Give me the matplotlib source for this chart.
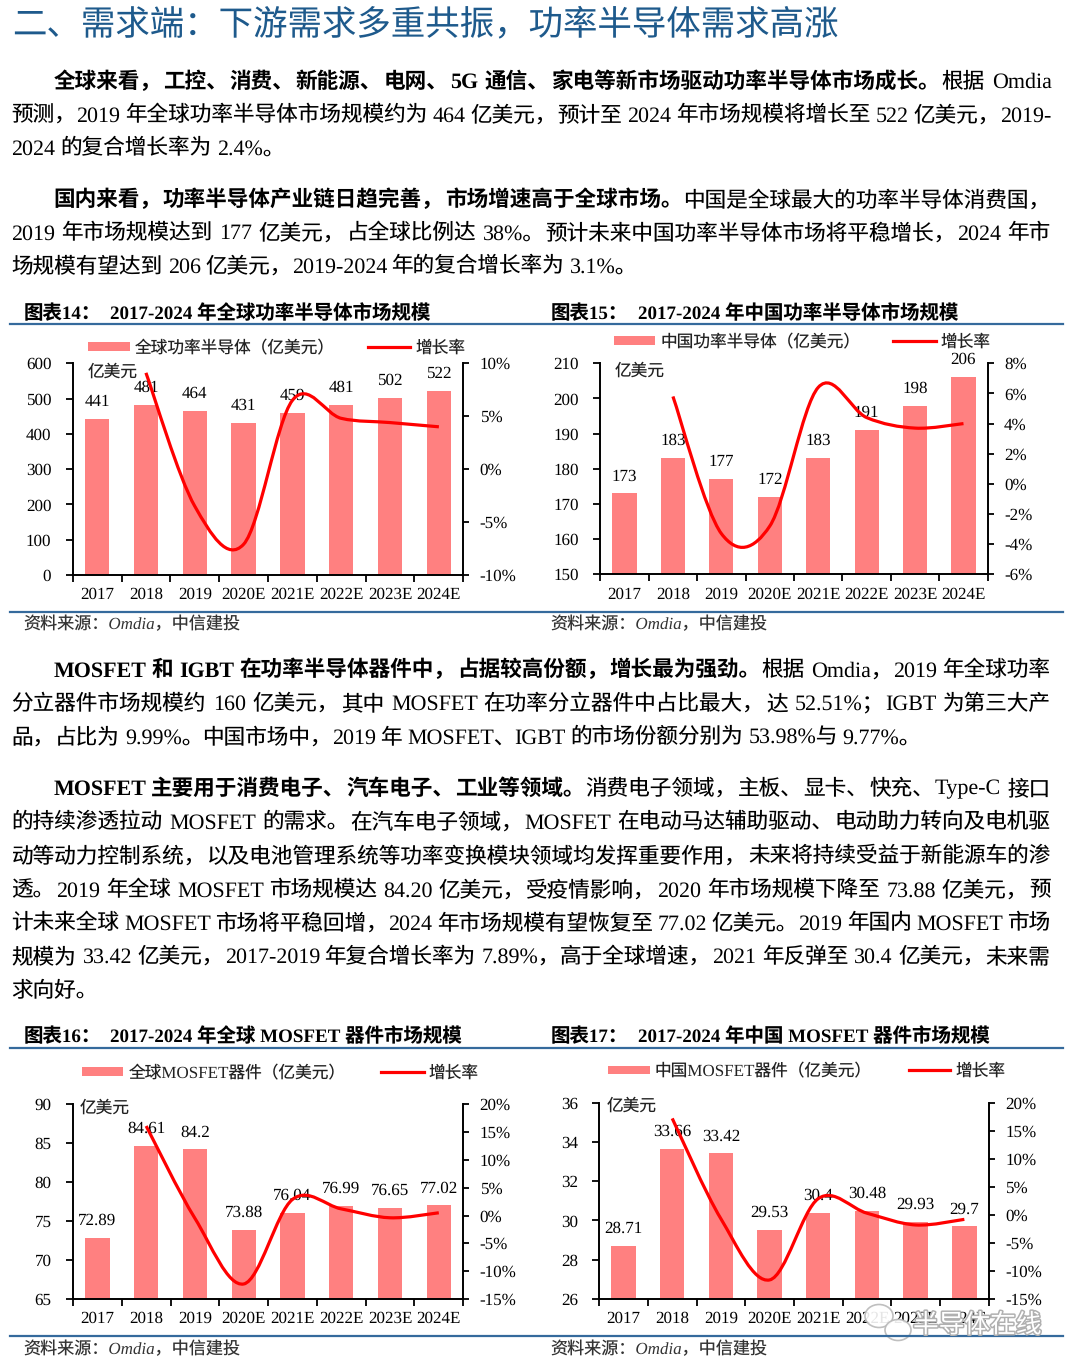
import matplotlib
matplotlib.use("Agg")
import matplotlib.pyplot as plt
import numpy as np
from matplotlib.path import Path
from matplotlib.patches import PathPatch, Rectangle, Ellipse
from matplotlib.lines import Line2D
from matplotlib.ticker import FuncFormatter
import matplotlib.patheffects as pe
from matplotlib import font_manager as fm
from matplotlib.ft2font import FT2Font
try:
    from matplotlib.ft2font import LoadFlags
    NOHINT = LoadFlags.NO_HINTING
except Exception:
    from matplotlib.ft2font import LOAD_NO_HINTING as NOHINT

# ---------------- data ----------------
CATS = ["2017", "2018", "2019", "2020E", "2021E", "2022E", "2023E", "2024E"]

V14 = [441, 481, 464, 431, 459, 481, 502, 522]
G14 = [9.1, -3.5, -7.1, 6.5, 4.8, 4.4, 4.0]          # 2018..2024E

V15 = [173, 183, 177, 172, 183, 191, 198, 206]
G15 = [5.8, -3.3, -2.8, 6.4, 4.4, 3.7, 4.0]

V16 = [72.89, 84.61, 84.2, 73.88, 76.04, 76.99, 76.65, 77.02]
G16 = [16.1, -0.5, -12.3, 2.9, 1.2, -0.4, 0.5]

V17 = [28.71, 33.66, 33.42, 29.53, 30.4, 30.48, 29.93, 29.7]
G17 = [17.2, -0.7, -11.6, 2.9, 0.3, -1.8, -0.8]

TITLES = [("图表14：", "2017-2024 年全球功率半导体市场规模"),
          ("图表15：", "2017-2024 年中国功率半导体市场规模"),
          ("图表16：", "2017-2024 年全球 MOSFET 器件市场规模"),
          ("图表17：", "2017-2024 年中国 MOSFET 器件市场规模")]
BAR_NAMES = ["全球功率半导体（亿美元）", "中国功率半导体（亿美元）",
             "全球MOSFET器件（亿美元）", "中国MOSFET器件（亿美元）"]
LINE_NAME = "增长率"
UNIT = "亿美元"
SOURCE = "资料来源：Omdia，中信建投"
PAGE_TITLE = "二、需求端：下游需求多重共振，功率半导体需求高涨"

P1 = [
    [("全球来看，工控、消费、新能源、电网、5G 通信、家电等新市场驱动功率半导体市场成长。", True), ("根据 Omdia", False)],
    [("预测，2019 年全球功率半导体市场规模约为 464 亿美元，预计至 2024 年市场规模将增长至 522 亿美元，2019-", False)],
    [("2024 的复合增长率为 2.4%。", False)],
]
P2 = [
    [("国内来看，功率半导体产业链日趋完善，市场增速高于全球市场。", True), ("中国是全球最大的功率半导体消费国，", False)],
    [("2019 年市场规模达到 177 亿美元，占全球比例达 38%。预计未来中国功率半导体市场将平稳增长，2024 年市", False)],
    [("场规模有望达到 206 亿美元，2019-2024 年的复合增长率为 3.1%。", False)],
]
P3 = [
    [("MOSFET 和 IGBT 在功率半导体器件中，占据较高份额，增长最为强劲。", True), ("根据 Omdia，2019 年全球功率", False)],
    [("分立器件市场规模约 160 亿美元，其中 MOSFET 在功率分立器件中占比最大，达 52.51%；IGBT 为第三大产", False)],
    [("品，占比为 9.99%。中国市场中，2019 年 MOSFET、IGBT 的市场份额分别为 53.98%与 9.77%。", False)],
]
P4 = [
    [("MOSFET 主要用于消费电子、汽车电子、工业等领域。", True), ("消费电子领域，主板、显卡、快充、Type-C 接口", False)],
    [("的持续渗透拉动 MOSFET 的需求。在汽车电子领域，MOSFET 在电动马达辅助驱动、电动助力转向及电机驱", False)],
    [("动等动力控制系统，以及电池管理系统等功率变换模块领域均发挥重要作用，未来将持续受益于新能源车的渗", False)],
    [("透。2019 年全球 MOSFET 市场规模达 84.20 亿美元，受疫情影响，2020 年市场规模下降至 73.88 亿美元，预", False)],
    [("计未来全球 MOSFET 市场将平稳回增，2024 年市场规模有望恢复至 77.02 亿美元。2019 年国内 MOSFET 市场", False)],
    [("规模为 33.42 亿美元，2017-2019 年复合增长率为 7.89%，高于全球增速，2021 年反弹至 30.4 亿美元，未来需", False)],
    [("求向好。", False)],
]

# ---------------- style ----------------
FAM = ["Liberation Serif", "Noto Sans CJK SC", "DejaVu Sans"]
plt.rcParams["font.family"] = FAM
plt.rcParams["text.hinting"] = "no_hinting"
plt.rcParams["text.hinting_factor"] = 1
BAR_C = "#FF8080"
LINE_C = "#FF0000"
BLUE = "#356a9c"
W, H = 1080, 1371
BODY_PT = 15.55

fig = plt.figure(figsize=(W / 100, H / 100), dpi=100)

_fonts = {}


def _ft(family, weight):
    key = (family, weight)
    if key not in _fonts:
        try:
            p = fm.findfont(fm.FontProperties(family=family, weight=weight), fallback_to_default=False)
            _fonts[key] = FT2Font(p)
        except Exception:
            _fonts[key] = None
    return _fonts[key]


def adv_width(s, size, weight):
    """sum of glyph advances in pixels (dpi 100)"""
    total = 0.0
    for ch in s:
        done = False
        for fam in FAM[:2]:
            f = _ft(fam, weight)
            if f is None:
                continue
            if f.get_char_index(ord(ch)) == 0:
                continue
            f.set_size(size, 100)
            g = f.load_char(ord(ch), flags=NOHINT)
            total += g.linearHoriAdvance / 65536.0
            done = True
            break
        if not done:
            total += size * 100 / 72
    return total


def fx(x):
    return x / W


def fy(y):
    return 1 - y / H


def ftext(x, yc, s, size, **kw):
    px = size * 100 / 72
    return fig.text(fx(x), fy(yc + 0.37 * px), s, fontsize=size, va="baseline", ha=kw.pop("ha", "left"), **kw)


PUNCT = set("，、。；：")


def body_line(segs, yc, x0, x1, justify, size=BODY_PT):
    toks = []
    for s, bold in segs:
        wt = "bold" if bold else "normal"
        buf = ""
        for ch in s:
            if ch == " ":
                if buf:
                    toks.append([buf, wt, "space"])
                    buf = ""
                elif toks:
                    toks[-1][2] = "space"
            elif ch in PUNCT:
                buf += ch
                toks.append([buf, wt, "punct"])
                buf = ""
            else:
                buf += ch
        if buf:
            toks.append([buf, wt, "none"])
    widths = [adv_width(t, size, wt) for t, wt, g in toks]
    sp = adv_width(" ", size, "normal")
    nat = {"space": sp, "punct": 0.0, "none": 0.0}
    gaps = [nat[toks[i][2]] for i in range(len(toks) - 1)]
    total = sum(widths) + sum(gaps)
    if justify and gaps:
        extra = x1 - x0 - total
        nsp = sum(1 for i in range(len(gaps)) if toks[i][2] == "space")
        if extra >= 0 or nsp == 0:
            gaps = [g + extra / len(gaps) for g in gaps]
        else:
            gaps = [max(g + extra / nsp, 1.0) if toks[i][2] == "space" else g
                    for i, g in enumerate(gaps)]
    x = x0
    for i, (t, wt, g) in enumerate(toks):
        ftext(x, yc, t, size, fontweight=wt, color="black")
        if i < len(gaps):
            x += widths[i] + gaps[i]


def paragraph(lines, ys):
    for i, (segs, y) in enumerate(zip(lines, ys)):
        x0 = 53.4 if i == 0 else 11.5
        body_line(segs, y, x0, 1050.5, justify=(i < len(lines) - 1))


# ---------------- page text ----------------
ftext(12, 22, PAGE_TITLE, 24.8, color="#1e5a8c")
paragraph(P1, [80, 113.3, 146.7])
paragraph(P2, [198.3, 231.3, 264.5])
paragraph(P3, [668.3, 702, 735.5])
paragraph(P4, [786.7, 820.5, 854.5, 888.3, 921.7, 955, 988.3])

# blue rules
for y in [323.5, 612, 1048, 1336]:
    fig.add_artist(Line2D([fx(10), fx(1062.5)], [fy(y), fy(y)], transform=fig.transFigure,
                          color=BLUE, lw=1.6))


def smooth_path(xs, ys):
    pts = np.column_stack([xs, ys]).astype(float)
    n = len(pts)
    verts = [pts[0]]
    codes = [Path.MOVETO]
    for i in range(n - 1):
        p0 = pts[i - 1] if i > 0 else pts[i]
        p1 = pts[i]
        p2 = pts[i + 1]
        p3 = pts[i + 2] if i + 2 < n else pts[i + 1]
        c1 = p1 + (p2 - p0) / 6.0
        c2 = p2 - (p3 - p1) / 6.0
        verts += [c1, c2, p2]
        codes += [Path.CURVE4] * 3
    return Path(verts, codes)


charts = [
    dict(v=V14, g=G14, box=(72.7, 363.3, 463.3, 575), yl=(0, 600), ys=100, rl=(-10, 10), rs=5,
         title=TITLES[0], tpos=(23.4, 110, 311.7), bar=BAR_NAMES[0],
         leg=(346.7, 88, 130, 135, 368, 410, 415), unit=(87.3, 370.7), src=(23, 623)),
    dict(v=V15, g=G15, box=(600.3, 363.3, 987.7, 574.3), yl=(150, 210), ys=10, rl=(-6, 8), rs=2,
         title=TITLES[1], tpos=(550.3, 637.5, 311.7), bar=BAR_NAMES[1],
         leg=(340.7, 614, 655, 661, 893, 936, 940), unit=(615, 370), src=(550, 623)),
    dict(v=V16, g=G16, box=(73, 1104.3, 463.2, 1299), yl=(65, 90), ys=5, rl=(-15, 20), rs=5,
         title=TITLES[2], tpos=(23.4, 110, 1035), bar=BAR_NAMES[2],
         leg=(1071.7, 82, 123, 129, 380.5, 424, 428.7), unit=(80, 1106.7), src=(23, 1348)),
    dict(v=V17, g=G17, box=(599.2, 1102.7, 988.7, 1299), yl=(26, 36), ys=2, rl=(-15, 20), rs=5,
         title=TITLES[3], tpos=(550.3, 637.5, 1035), bar=BAR_NAMES[3],
         leg=(1070, 608, 649.5, 655, 908.5, 950.5, 955), unit=(607, 1104.3), src=(550, 1348)),
]

for c in charts:
    x0, y0, x1, y1 = c["box"]
    ax = fig.add_axes([fx(x0), fy(y1), (x1 - x0) / W, (y1 - y0) / H])
    idx = np.arange(len(CATS))
    ax.bar(idx, c["v"], width=0.5, color=BAR_C, zorder=2)
    ax.set_xlim(-0.5, len(CATS) - 0.5)
    ax.set_ylim(*c["yl"])
    ax.set_yticks(np.arange(c["yl"][0], c["yl"][1] + c["ys"] / 2, c["ys"]))
    ax.yaxis.set_major_formatter(FuncFormatter(lambda v, p: f"{v:g}"))
    ax.set_xticks(np.arange(-0.5, len(CATS), 1.0))
    ax.set_xticklabels([])
    ax.set_xticks(idx, minor=True)
    ax.set_xticklabels(CATS, minor=True)
    ax.tick_params(axis="x", which="major", length=5, width=1.3, direction="out")
    ax.tick_params(axis="x", which="minor", length=0, pad=9, labelsize=12)
    ax.tick_params(axis="y", length=5, width=1.3, direction="out", pad=10.4, labelsize=12)
    for s in ["top", "right"]:
        ax.spines[s].set_visible(False)
    for s in ["left", "bottom"]:
        ax.spines[s].set_linewidth(1.4)
    for i, v in enumerate(c["v"]):
        ax.annotate(f"{v:g}", (i, v), xytext=(0, 9.4), textcoords="offset points",
                    ha="center", va="baseline", fontsize=12, zorder=3)

    ax2 = ax.twinx()
    ax2.set_ylim(*c["rl"])
    ax2.set_yticks(np.arange(c["rl"][0], c["rl"][1] + c["rs"] / 2, c["rs"]))
    ax2.yaxis.set_major_formatter(FuncFormatter(lambda v, p: f"{v:.0f}%"))
    ax2.tick_params(axis="y", length=4.5, width=1.3, direction="out", pad=7.3, labelsize=12)
    for s in ["top", "left", "bottom"]:
        ax2.spines[s].set_visible(False)
    ax2.spines["right"].set_linewidth(1.4)
    path = smooth_path(idx[1:], c["g"])
    ax2.add_patch(PathPatch(path, facecolor="none", edgecolor=LINE_C, lw=2.3, transform=ax2.transData))

    # titles
    tx1, tx2, ty = c["tpos"]
    ftext(tx1, ty, c["title"][0], 14, fontweight="bold")
    ftext(tx2, ty, c["title"][1], 14, fontweight="bold")
    # legend
    ly, px0, px1, ptx, lx0, lx1, ltx = c["leg"]
    fig.add_artist(Rectangle((fx(px0), fy(ly + 4.4)), (px1 - px0) / W, 8.8 / H,
                             transform=fig.transFigure, facecolor=BAR_C, edgecolor="none"))
    ftext(ptx, ly, c["bar"], 12, color="#222222")
    fig.add_artist(Line2D([fx(lx0), fx(lx1)], [fy(ly), fy(ly)], transform=fig.transFigure,
                          color=LINE_C, lw=2.3))
    ftext(ltx, ly, LINE_NAME, 12, color="#222222")
    # unit label
    ftext(c["unit"][0], c["unit"][1], UNIT, 12, color="#222222")
    # source
    ftext(c["src"][0], c["src"][1], SOURCE, 12.3, style="italic", color="#333333")

# watermark
for (cx, cy, w, h) in [(879, 1316, 28, 23), (898, 1330, 26, 21)]:
    fig.add_artist(Ellipse((cx, H - cy), w, h, transform=None, facecolor="white",
                           edgecolor="#b8b8b8", lw=1.2, alpha=0.9))
wm = ftext(913, 1323, "半导体在线", 18.5, color="white", family=["Noto Sans CJK SC"])
wm.set_path_effects([pe.withStroke(linewidth=2.2, foreground="#b0b0b0")])

fig.savefig("out.png", dpi=100)
